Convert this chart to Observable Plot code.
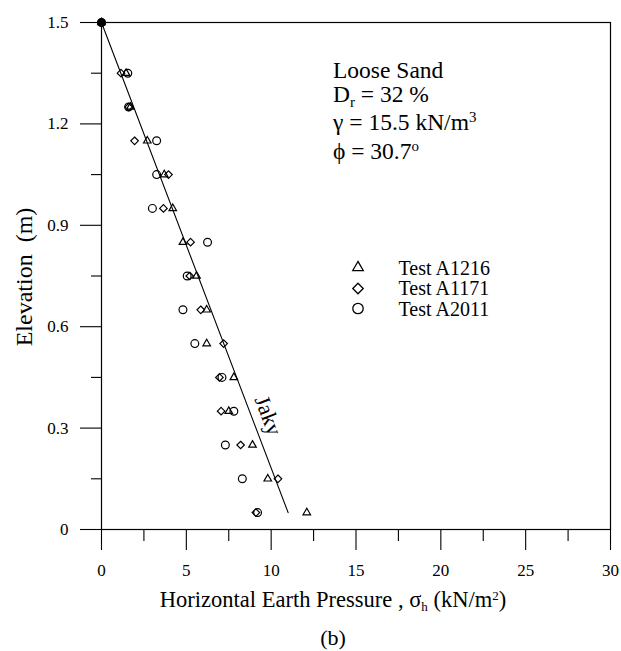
<!DOCTYPE html>
<html>
<head>
<meta charset="utf-8">
<script src="https://cdn.jsdelivr.net/npm/d3@7"></script>
<script src="https://cdn.jsdelivr.net/npm/@observablehq/plot@0.6"></script>
<style>
  html, body { margin: 0; padding: 0; background: #fff; }
  #chart svg { display: block; }
</style>
</head>
<body>
<div id="chart"></div>
<script>
// Elevations (m) of the measurement levels
const elevations = [1.5, 1.35, 1.25, 1.15, 1.05, 0.95, 0.85, 0.75, 0.65, 0.55, 0.45, 0.35, 0.25, 0.15, 0.05];
// Horizontal earth pressure (kN/m2) per test
const testA1216 = [0, 1.45, 1.7, 2.7, 3.7, 4.2, 4.8, 5.6, 6.2, 6.2, 7.8, 7.5, 8.9, 9.8, 12.1];
const testA1171 = [0, 1.15, 1.6, 1.95, 3.95, 3.65, 5.25, 5.2, 5.85, 7.2, 6.95, 7.05, 8.2, 10.4, 9.1];
const testA2011 = [0, 1.55, 1.6, 3.25, 3.25, 3.0, 6.25, 5.05, 4.8, 5.5, 7.1, 7.8, 7.3, 8.3, 9.2];
// Jaky line (K0 = 1 - sin phi)
const jakyX = [0, 11.0];
const jakyY = [1.5, 0.05];
// Ticks
const xTicks = [0, 5, 10, 15, 20, 25, 30];
const xMinorTicks = [2.5, 7.5, 12.5, 17.5, 22.5, 27.5];
const yTicks = [0, 0.3, 0.6, 0.9, 1.2, 1.5];
const yTickLabels = ["0", "0.3", "0.6", "0.9", "1.2", "1.5"];
const yMinorTicks = [0.15, 0.45, 0.75, 1.05, 1.35];
const seriesNames = ["Test A1216", "Test A1171", "Test A2011"];
const seriesSymbols = ["triangle", "diamond2", "circle"];

const toRows = (vals) => vals.map((v, i) => ({x: v, y: elevations[i]}));
const rowsA1216 = toRows(testA1216);
const rowsA1171 = toRows(testA1171);
const rowsA2011 = toRows(testA2011);
const jaky = jakyX.map((v, i) => ({x: v, y: jakyY[i]}));
const topRows = rowsA2011.filter(d => d.y === 1.5);

const font = "'Liberation Serif', 'Times New Roman', serif";

const svg = Plot.plot({
  width: 621,
  height: 651,
  marginLeft: 101,
  marginRight: 11,
  marginTop: 22,
  marginBottom: 122,
  style: {fontFamily: font, fontSize: "17px", color: "black", background: "white"},
  x: {domain: [0, 30]},
  y: {domain: [0, 1.5]},
  marks: [
    Plot.frame({stroke: "black", strokeWidth: 1.2}),
    Plot.axisX({ticks: xTicks, tickSize: 21, tickPadding: 13, label: null, fontSize: 17, strokeWidth: 1.1}),
    Plot.axisX({ticks: xMinorTicks, tickSize: 12, tickFormat: () => "", label: null, strokeWidth: 1.1}),
    Plot.axisY({ticks: yTicks, tickSize: 21, tickPadding: 12, label: null, fontSize: 17, strokeWidth: 1.1,
      tickFormat: (d) => yTickLabels[yTicks.indexOf(d)]}),
    Plot.axisY({ticks: yMinorTicks, tickSize: 10, tickFormat: () => "", label: null, strokeWidth: 1.1}),
    Plot.line(jaky, {x: "x", y: "y", stroke: "black", strokeWidth: 1.1}),
    Plot.text([seriesNames[0]], {x: () => jakyX[1], y: () => jakyY[1], text: () => "Jaky",
      dx: -20, dy: -97, rotate: 69, fontSize: 22, fill: "black"}),
    Plot.dot(rowsA1216, {x: "x", y: "y", symbol: "triangle", r: 2.8, stroke: "black", strokeWidth: 1.2, fill: "none"}),
    Plot.dot(rowsA1171, {x: "x", y: "y", symbol: "diamond2", r: 3.4, stroke: "black", strokeWidth: 1.2, fill: "none"}),
    Plot.dot(rowsA2011, {x: "x", y: "y", symbol: "circle", r: 3.9, stroke: "black", strokeWidth: 1.2, fill: "none"}),
    Plot.dot(topRows, {x: "x", y: "y", symbol: "circle", r: 4.3, fill: "black"}),
    // legend
    Plot.dot([0], {frameAnchor: "top-left", dx: 256.5, dy: 245, symbol: seriesSymbols[0], r: 3.9, stroke: "black", strokeWidth: 1.3, fill: "none"}),
    Plot.dot([0], {frameAnchor: "top-left", dx: 256.5, dy: 266, symbol: seriesSymbols[1], r: 4.7, stroke: "black", strokeWidth: 1.3, fill: "none"}),
    Plot.dot([0], {frameAnchor: "top-left", dx: 256.5, dy: 286, symbol: seriesSymbols[2], r: 5.2, stroke: "black", strokeWidth: 1.3, fill: "none"}),
    Plot.text(seriesNames.slice(0, 1), {frameAnchor: "top-left", dx: 297, dy: 246, text: d => d, textAnchor: "start", lineAnchor: "middle", fontSize: 20, letterSpacing: 0.8, fill: "black"}),
    Plot.text(seriesNames.slice(1, 2), {frameAnchor: "top-left", dx: 297, dy: 266.5, text: d => d, textAnchor: "start", lineAnchor: "middle", fontSize: 20, letterSpacing: 0.8, fill: "black"}),
    Plot.text(seriesNames.slice(2, 3), {frameAnchor: "top-left", dx: 297, dy: 287, text: d => d, textAnchor: "start", lineAnchor: "middle", fontSize: 20, letterSpacing: 0.8, fill: "black"})
  ]
});

const s = d3.select(svg);
const addText = (x, y, size, anchor, transform) => {
  const t = s.append("text")
    .attr("x", x).attr("y", y)
    .attr("font-family", font)
    .attr("font-size", size)
    .attr("fill", "black")
    .attr("text-anchor", anchor)
    .attr("xml:space", "preserve");
  if (transform) t.attr("transform", transform);
  return t;
};

// Annotation block
addText(333, 78, 23.5, "start").text("Loose Sand");
const dr = addText(333, 102, 23.5, "start");
dr.append("tspan").text("D");
dr.append("tspan").attr("font-size", 15).attr("dy", 5).text("r");
dr.append("tspan").attr("dy", -5).text(" = 32 %");
const g = addText(333, 130, 23.5, "start");
g.append("tspan").text("γ = 15.5 kN/m");
g.append("tspan").attr("font-size", 15).attr("dy", -8).text("3");
const p = addText(333, 159, 23.5, "start");
p.append("tspan").text("ϕ = 30.7");
p.append("tspan").attr("font-size", 15).attr("dy", -8).text("o");

// Y axis title
addText(0, 0, 24, "middle", "translate(32,277) rotate(-90)").text("Elevation  (m)");

// X axis title
const xl = addText(333, 607, 22.5, "middle");
xl.append("tspan").text("Horizontal Earth Pressure , σ");
xl.append("tspan").attr("font-size", 13).attr("dy", 4).text("h");
xl.append("tspan").attr("dy", -4).text(" (kN/m");
xl.append("tspan").attr("font-size", 13).attr("dy", -7).text("2");
xl.append("tspan").attr("dy", 7).text(")");

// Panel caption
addText(333, 645, 22, "middle").text("(b)");

document.getElementById("chart").appendChild(svg);
</script>
</body>
</html>
